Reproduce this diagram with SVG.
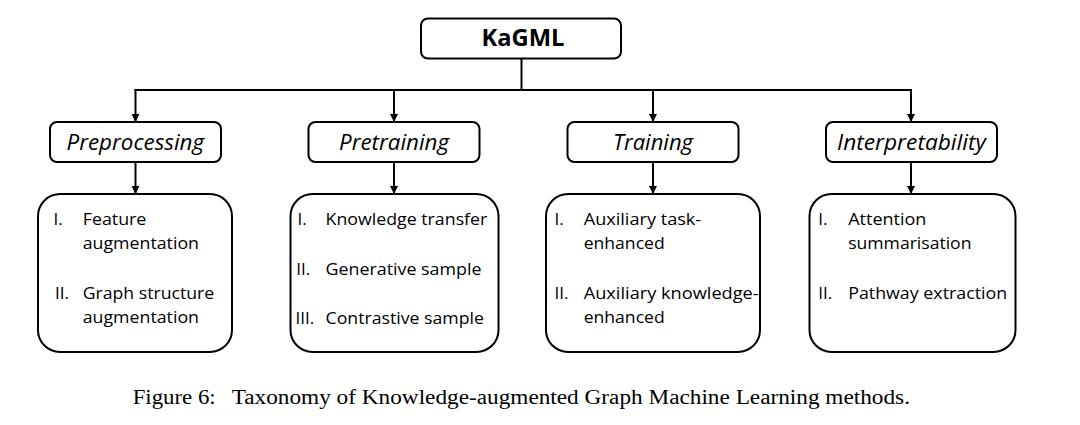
<svg xmlns="http://www.w3.org/2000/svg" width="1080" height="425" viewBox="0 0 1080 425">
<style>
.box{fill:#fff;stroke:#000;stroke-width:2}
.t{font-family:"Open Sans","Liberation Sans",sans-serif;font-size:17px;fill:#000}
.h{font-family:"Open Sans","Liberation Sans",sans-serif;font-size:21px;font-style:italic;fill:#000;text-anchor:start}
.root{font-family:"Open Sans","Liberation Sans",sans-serif;font-size:23px;font-weight:bold;fill:#000}
.cap{font-family:"Liberation Serif","Times New Roman",serif;font-size:20px;fill:#000}
.c{stroke:#000;stroke-width:2;fill:none}
</style>
<defs>
<marker id="ah" markerUnits="userSpaceOnUse" markerWidth="10" markerHeight="10" refX="8" refY="4" orient="auto">
<path d="M0,0 L8,4 L0,8 Z" fill="#000"/>
</marker>
</defs>
<rect width="1080" height="425" fill="#fff"/>
<g id="connectors">
<line class="c" x1="521.5" y1="58" x2="521.5" y2="90" stroke-width="3"/>
<line class="c" x1="134.5" y1="90" x2="912" y2="90"/>
<line class="c" x1="135.5" y1="89" x2="135.5" y2="122" marker-end="url(#ah)"/>
<line class="c" x1="394" y1="90" x2="394" y2="122" marker-end="url(#ah)"/>
<line class="c" x1="653" y1="90" x2="653" y2="122" marker-end="url(#ah)"/>
<line class="c" x1="911" y1="89" x2="911" y2="122" marker-end="url(#ah)"/>
<line class="c" x1="135.5" y1="162" x2="135.5" y2="194" marker-end="url(#ah)"/>
<line class="c" x1="394" y1="162" x2="394" y2="194" marker-end="url(#ah)"/>
<line class="c" x1="653" y1="162" x2="653" y2="194" marker-end="url(#ah)"/>
<line class="c" x1="911" y1="162" x2="911" y2="194" marker-end="url(#ah)"/>
</g>
<g id="root">
<rect class="box" x="421" y="18.5" width="200" height="40" rx="7"/>
<text class="root" x="481.5" y="46" textLength="83" lengthAdjust="spacingAndGlyphs">KaGML</text>
</g>
<g id="preprocessing">
<rect class="box" x="50" y="122" width="171" height="40" rx="7"/>
<text class="h" x="66.5" y="150" textLength="137.5" lengthAdjust="spacingAndGlyphs">Preprocessing</text>
</g>
<g id="pretraining">
<rect class="box" x="308.5" y="122" width="171" height="40" rx="7"/>
<text class="h" x="339" y="150" textLength="110" lengthAdjust="spacingAndGlyphs">Pretraining</text>
</g>
<g id="training">
<rect class="box" x="567.5" y="122" width="171" height="40" rx="7"/>
<text class="h" x="613" y="150" textLength="80" lengthAdjust="spacingAndGlyphs">Training</text>
</g>
<g id="interpretability">
<rect class="box" x="826" y="122" width="171" height="40" rx="7"/>
<text class="h" x="837" y="150" textLength="149" lengthAdjust="spacingAndGlyphs">Interpretability</text>
</g>
<g id="preprocessing-methods">
<rect class="box" x="38" y="194" width="194" height="158" rx="22"/>
<text class="t" x="53.5" y="225">I.</text>
<text class="t" x="82.7" y="225" textLength="63.7" lengthAdjust="spacingAndGlyphs">Feature</text>
<text class="t" x="82.7" y="249" textLength="116.3" lengthAdjust="spacingAndGlyphs">augmentation</text>
<text class="t" x="55" y="299">II.</text>
<text class="t" x="82.7" y="299" textLength="131.5" lengthAdjust="spacingAndGlyphs">Graph structure</text>
<text class="t" x="82.7" y="323" textLength="116.3" lengthAdjust="spacingAndGlyphs">augmentation</text>
</g>
<g id="pretraining-methods">
<rect class="box" x="290.5" y="194" width="208" height="158" rx="22"/>
<text class="t" x="297.5" y="225">I.</text>
<text class="t" x="325.5" y="225" textLength="161.8" lengthAdjust="spacingAndGlyphs">Knowledge transfer</text>
<text class="t" x="296.2" y="275">II.</text>
<text class="t" x="325.5" y="275" textLength="156" lengthAdjust="spacingAndGlyphs">Generative sample</text>
<text class="t" x="295.5" y="324">III.</text>
<text class="t" x="325.5" y="324" textLength="158.4" lengthAdjust="spacingAndGlyphs">Contrastive sample</text>
</g>
<g id="training-methods">
<rect class="box" x="546" y="194" width="214" height="158" rx="22"/>
<text class="t" x="554.5" y="225">I.</text>
<text class="t" x="583.7" y="225" textLength="117.5" lengthAdjust="spacingAndGlyphs">Auxiliary task-</text>
<text class="t" x="583.7" y="249" textLength="81" lengthAdjust="spacingAndGlyphs">enhanced</text>
<text class="t" x="554.5" y="299">II.</text>
<text class="t" x="583.7" y="299" textLength="175" lengthAdjust="spacingAndGlyphs">Auxiliary knowledge-</text>
<text class="t" x="583.7" y="323" textLength="81" lengthAdjust="spacingAndGlyphs">enhanced</text>
</g>
<g id="interpretability-methods">
<rect class="box" x="809.5" y="194" width="206" height="158" rx="22"/>
<text class="t" x="818.3" y="225">I.</text>
<text class="t" x="848.2" y="225" textLength="78.2" lengthAdjust="spacingAndGlyphs">Attention</text>
<text class="t" x="848.2" y="249" textLength="123.3" lengthAdjust="spacingAndGlyphs">summarisation</text>
<text class="t" x="818.3" y="299">II.</text>
<text class="t" x="848.2" y="299" textLength="159" lengthAdjust="spacingAndGlyphs">Pathway extraction</text>
</g>
<g id="caption">
<text class="cap" x="132.7" y="404" textLength="83" lengthAdjust="spacingAndGlyphs">Figure 6:</text>
<text class="cap" x="231.7" y="404" textLength="678.3" lengthAdjust="spacingAndGlyphs">Taxonomy of Knowledge-augmented Graph Machine Learning methods.</text>
</g>
</svg>
